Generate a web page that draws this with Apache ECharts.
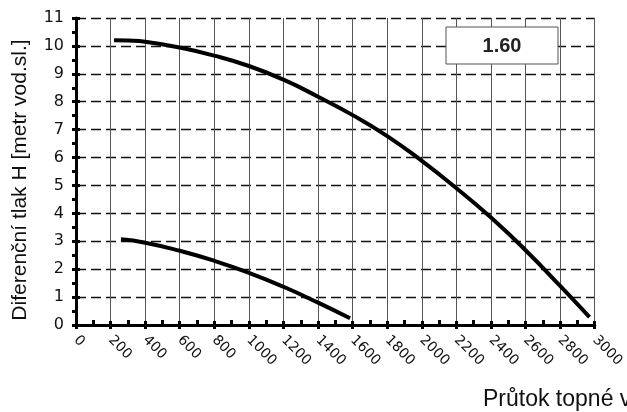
<!DOCTYPE html>
<html><head><meta charset="utf-8">
<script src="https://cdn.jsdelivr.net/npm/echarts@6/dist/echarts.min.js"></script>
<style>html,body{margin:0;padding:0;background:#fff}#c{width:627px;height:412px}</style>
</head><body><div id="c"></div>
<script>
var upperX = [220, 300, 400, 600, 800, 1000, 1200, 1400, 1600, 1800, 2000, 2200, 2400, 2600, 2800, 2970];
var upperY = [10.2, 10.19, 10.15, 9.94, 9.65, 9.28, 8.79, 8.18, 7.52, 6.77, 5.88, 4.9, 3.85, 2.68, 1.40, 0.28];
var lowerX = [260, 400, 600, 800, 1000, 1200, 1400, 1585];
var lowerY = [3.07, 2.95, 2.66, 2.30, 1.87, 1.37, 0.8, 0.24];
var boxLabel = '1.60';
var yName = 'Diferenční tlak H [metr vod.sl.]';
var xName = 'Průtok topné vody [l/h]';

function pairs(xs, ys){ return xs.map(function(x,i){ return [x, ys[i]]; }); }

var chart = echarts.init(document.getElementById('c'));
chart.setOption({
  animation: false,
  grid: {left: 76, right: 31, top: 18, bottom: 87},
  xAxis: [{
    type: 'value', min: 0, max: 3000, interval: 200, position: 'bottom',
    axisLine: {show: true, onZero: false, lineStyle: {color: '#000', width: 3}},
    axisTick: {show: true, inside: true, length: 4, lineStyle: {color: '#000', width: 3}},
    minorTick: {show: true, splitNumber: 2, length: 5, lineStyle: {color: '#000', width: 3}},
    axisLabel: {rotate: -45, margin: 13, color: '#111', fontFamily: 'DejaVu Sans', fontSize: 14,
      formatter: function(v){ return String(v); }},
    splitLine: {show: true, lineStyle: {color: '#555', width: 1, type: 'solid'}}
  }, {
    type: 'value', min: 0, max: 3000, interval: 200, position: 'bottom',
    axisLine: {show: false},
    axisTick: {show: true, inside: false, length: 4, lineStyle: {color: '#000', width: 3}},
    axisLabel: {show: false}, splitLine: {show: false}
  }],
  yAxis: [{
    type: 'value', min: 0, max: 11, interval: 1, position: 'left',
    axisLine: {show: true, onZero: false, lineStyle: {color: '#000', width: 3}},
    axisTick: {show: true, inside: false, length: 4, lineStyle: {color: '#000', width: 3}},
    minorTick: {show: true, splitNumber: 2, length: 4, lineStyle: {color: '#000', width: 3}},
    axisLabel: {margin: 12, color: '#111', fontFamily: 'DejaVu Sans', fontSize: 16},
    splitLine: {show: true, lineStyle: {color: '#111', width: 1.3, type: [10, 5]}}
  }, {
    type: 'value', min: 0, max: 11, interval: 1, position: 'left',
    axisLine: {show: false},
    axisTick: {show: true, inside: true, length: 4, lineStyle: {color: '#000', width: 3}},
    axisLabel: {show: false}, splitLine: {show: false}
  }],
  series: [{
    type: 'line', data: pairs(upperX, upperY), smooth: 0.5, symbol: 'none',
    lineStyle: {color: '#000', width: 4}, z: 5
  }, {
    type: 'line', data: pairs(lowerX, lowerY), smooth: 0.5, symbol: 'none',
    lineStyle: {color: '#000', width: 4}, z: 5
  }],
  graphic: [{
    type: 'rect', shape: {x: 446, y: 27, width: 112, height: 37},
    style: {fill: '#fff', stroke: '#555', lineWidth: 1}, z: 10
  }, {
    type: 'text', x: 502, y: 46, z: 11,
    style: {text: boxLabel, fill: '#222', font: 'bold 20px "Liberation Sans", Arial', textAlign: 'center', textVerticalAlign: 'middle'}
  }, {
    type: 'text', x: 20, y: 180, rotation: Math.PI / 2, z: 11,
    style: {text: yName, fill: '#111', font: '21px "Liberation Sans", Arial', textAlign: 'center', textVerticalAlign: 'middle'}
  }, {
    type: 'text', x: 483, y: 411, z: 11,
    style: {text: xName, fill: '#111', font: '23px "Liberation Sans", Arial', textAlign: 'left', textVerticalAlign: 'bottom'}
  }]
});
</script></body></html>
